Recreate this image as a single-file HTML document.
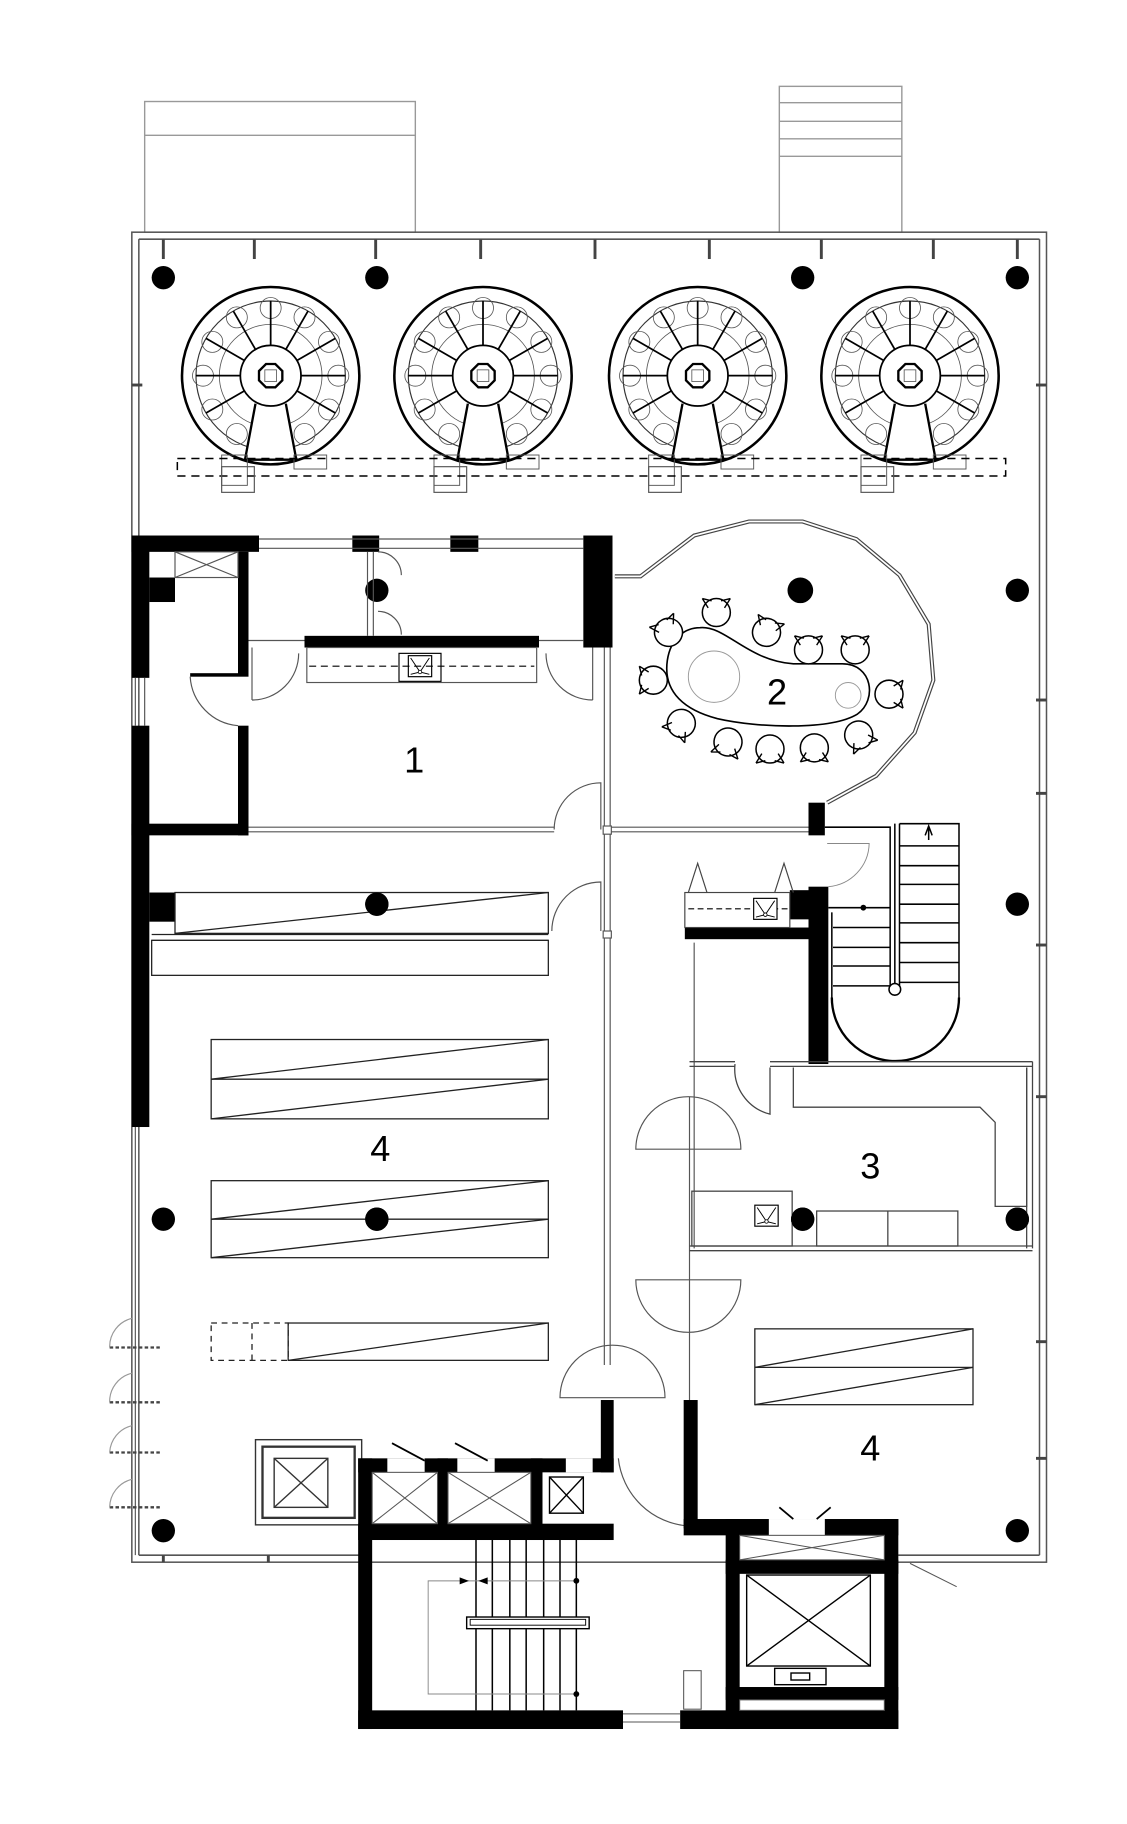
<!DOCTYPE html>
<html><head><meta charset="utf-8"><style>
html,body{margin:0;padding:0;background:#fff;}
svg{display:block;}
text{font-family:"Liberation Sans",sans-serif;}
</style></head><body>
<svg width="1127" height="1824" viewBox="0 0 966 1563.4" xmlns="http://www.w3.org/2000/svg">
<defs>
<g id="mach">
  <circle r="76" fill="#fff" stroke="#000" stroke-width="2.2"/>
  <circle r="64" fill="none" stroke="#333" stroke-width="1"/>
  <g stroke="#555" stroke-width="0.7" fill="none">
    <circle cx="0" cy="-58" r="9"/><circle cx="29" cy="-50" r="9"/><circle cx="50" cy="-29" r="9"/>
    <circle cx="58" cy="0" r="9"/><circle cx="50" cy="29" r="9"/><circle cx="-29" cy="-50" r="9"/>
    <circle cx="-50" cy="-29" r="9"/><circle cx="-58" cy="0" r="9"/><circle cx="-50" cy="29" r="9"/>
    <circle cx="-29" cy="50" r="9"/><circle cx="29" cy="50" r="9"/>
    <circle r="44"/>
  </g>
  <g stroke="#000" stroke-width="1.5">
    <line x1="0" y1="-26" x2="0" y2="-64"/><line x1="13" y1="-22.5" x2="32" y2="-55.4"/>
    <line x1="22.5" y1="-13" x2="55.4" y2="-32"/><line x1="26" y1="0" x2="64" y2="0"/>
    <line x1="22.5" y1="13" x2="55.4" y2="32"/><line x1="-13" y1="-22.5" x2="-32" y2="-55.4"/>
    <line x1="-22.5" y1="-13" x2="-55.4" y2="-32"/><line x1="-26" y1="0" x2="-64" y2="0"/>
    <line x1="-22.5" y1="13" x2="-55.4" y2="32"/>
  </g>
  <path d="M-13,24 L-22,72 L22,72 L13,24" fill="#fff" stroke="#000" stroke-width="2"/>
  <circle r="26" fill="#fff" stroke="#000" stroke-width="1.5"/>
  <polygon points="-4,-10 4,-10 10,-4 10,4 4,10 -4,10 -10,4 -10,-4" fill="none" stroke="#000" stroke-width="2"/>
  <rect x="-5" y="-5" width="10" height="10" fill="none" stroke="#555" stroke-width="0.7"/>
  <rect x="-42" y="68" width="22" height="26" fill="none" stroke="#555" stroke-width="0.8"/>
  <rect x="20" y="68" width="28" height="12" fill="none" stroke="#555" stroke-width="0.8"/>
</g>
<g id="chair">
  <circle r="12" fill="#fff" stroke="#000" stroke-width="1.3"/>
  <path d="M-12,-12 L-7,-4 M12,-12 L7,-4 M-12,-12 L-4,-10 M12,-12 L4,-10" stroke="#000" stroke-width="1.2"/>
</g>
<g id="sink">
  <rect x="-10" y="-9" width="20" height="18" fill="#fff" stroke="#000" stroke-width="1"/>
  <path d="M-8,-7 L0,5 L8,-7 M-8,7 L0,5 L8,7" stroke="#000" stroke-width="0.8" fill="none"/>
  <circle cx="0" cy="5" r="1.5" fill="#fff" stroke="#000" stroke-width="0.7"/>
</g>
</defs>

<!-- top annexes -->
<g fill="none" stroke="#999" stroke-width="1.2">
  <rect x="124" y="87" width="232" height="112"/>
  <line x1="124" y1="116" x2="356" y2="116"/>
  <rect x="668" y="74" width="105" height="125"/>
  <line x1="668" y1="88" x2="773" y2="88"/><line x1="668" y1="104" x2="773" y2="104"/>
  <line x1="668" y1="119" x2="773" y2="119"/><line x1="668" y1="134" x2="773" y2="134"/>
</g>

<!-- outer building -->
<g fill="none" stroke="#555" stroke-width="1.3">
  <rect x="113" y="199" width="784" height="1140"/>
  <line x1="119" y1="205" x2="891" y2="205"/>
  <line x1="119" y1="205" x2="119" y2="1333"/>
  <line x1="891" y1="205" x2="891" y2="1333"/>
  <line x1="119" y1="1333" x2="310" y2="1333"/>
  <line x1="765" y1="1333" x2="891" y2="1333"/>
</g>
<g stroke="#444" stroke-width="2.5">
  <line x1="140" y1="205" x2="140" y2="222"/><line x1="218" y1="205" x2="218" y2="222"/>
  <line x1="322" y1="205" x2="322" y2="222"/><line x1="412" y1="205" x2="412" y2="222"/>
  <line x1="510" y1="205" x2="510" y2="222"/><line x1="608" y1="205" x2="608" y2="222"/>
  <line x1="704" y1="205" x2="704" y2="222"/><line x1="800" y1="205" x2="800" y2="222"/>
  <line x1="872" y1="205" x2="872" y2="222"/>
  <line x1="113" y1="330" x2="122" y2="330"/><line x1="888" y1="330" x2="897" y2="330"/>
  <line x1="888" y1="600" x2="897" y2="600"/><line x1="888" y1="680" x2="897" y2="680"/>
  <line x1="888" y1="810" x2="897" y2="810"/><line x1="888" y1="940" x2="897" y2="940"/>
  <line x1="888" y1="1150" x2="897" y2="1150"/><line x1="888" y1="1250" x2="897" y2="1250"/>
  <line x1="230" y1="1333" x2="230" y2="1339"/><line x1="140" y1="1333" x2="140" y2="1339"/>
</g>

<!-- machines -->
<use href="#mach" x="232" y="322"/>
<use href="#mach" x="414" y="322"/>
<use href="#mach" x="598" y="322"/>
<use href="#mach" x="780" y="322"/>
<rect x="152" y="393" width="710" height="15" fill="none" stroke="#000" stroke-width="1.3" stroke-dasharray="7,5"/>
<g fill="none" stroke="#555" stroke-width="1">
  <rect x="190" y="400" width="28" height="22"/><rect x="372" y="400" width="28" height="22"/>
  <rect x="556" y="400" width="28" height="22"/><rect x="738" y="400" width="28" height="22"/>
</g>

<!-- columns -->
<g fill="#000">
  <circle cx="140" cy="238" r="10"/><circle cx="323" cy="238" r="10"/>
  <circle cx="688" cy="238" r="10"/><circle cx="872" cy="238" r="10"/>
  <circle cx="323" cy="506" r="10"/><circle cx="686" cy="506" r="11"/><circle cx="872" cy="506" r="10"/>
  <circle cx="323" cy="775" r="10"/><circle cx="872" cy="775" r="10"/>
  <circle cx="140" cy="1045" r="10"/><circle cx="323" cy="1045" r="10"/>
  <circle cx="688" cy="1045" r="10"/><circle cx="872" cy="1045" r="10"/>
  <circle cx="140" cy="1312" r="10"/><circle cx="872" cy="1312" r="10"/>
</g>

<!-- ROOM 1 & left walls -->
<g fill="#000">
  <rect x="113" y="459" width="15" height="122"/>
  <rect x="113" y="622" width="15" height="344"/>
  <rect x="113" y="459" width="109" height="14"/>
  <rect x="204" y="473" width="9" height="107"/>
  <rect x="204" y="622" width="9" height="94"/>
  <rect x="113" y="706" width="100" height="10"/>
  <rect x="128" y="495" width="22" height="21"/>
  <rect x="163" y="577" width="41" height="3"/>
  <rect x="302" y="459" width="23" height="14"/>
  <rect x="386" y="459" width="24" height="14"/>
  <rect x="500" y="459" width="25" height="96"/>
  <rect x="261" y="545" width="201" height="10"/>
  <rect x="128" y="765" width="22" height="25"/>
</g>
<g fill="none" stroke="#555" stroke-width="1">
  <rect x="150" y="473" width="54" height="22"/>
  <path d="M150,473 L204,495 M204,473 L150,495"/>
  <line x1="222" y1="462" x2="500" y2="462"/><line x1="222" y1="470" x2="500" y2="470"/>
  <rect x="263" y="555" width="197" height="30"/>
  <line x1="213" y1="549" x2="261" y2="549"/><line x1="462" y1="549" x2="500" y2="549"/>
  <line x1="315" y1="473" x2="315" y2="545"/><line x1="320" y1="473" x2="320" y2="545"/>
  <path d="M324,473 A20,20 0 0 1 344,493 M324,524 A20,20 0 0 1 344,544"/>
  <path d="M216,555 L216,600 M216,600 A40,40 0 0 0 256,560 M508,555 L508,600 M508,600 A40,40 0 0 1 468,560"/>
  <path d="M163,580 A45,45 0 0 0 204,622"/>
  <line x1="116" y1="581" x2="116" y2="622"/><line x1="124" y1="581" x2="124" y2="622"/>
  <line x1="116" y1="966" x2="116" y2="1333"/>
  <line x1="213" y1="709" x2="475" y2="709"/><line x1="213" y1="713" x2="475" y2="713"/>
  <path d="M475,711 A40,40 0 0 1 515,671 L515,711"/>
  <line x1="518" y1="555" x2="518" y2="1170"/><line x1="523" y1="555" x2="523" y2="1170"/>
  <line x1="523" y1="709" x2="693" y2="709"/><line x1="523" y1="713" x2="693" y2="713"/>
  <path d="M473,798 A42,42 0 0 1 515,756 L515,798"/>
</g>
<rect x="517" y="708" width="7" height="7" fill="#fff" stroke="#555"/>
<rect x="517" y="798" width="7" height="6" fill="#fff" stroke="#555"/>
<g fill="#000"><rect x="342" y="560" width="36" height="24" fill="#fff" stroke="#000"/></g>
<use href="#sink" x="360" y="571"/>
<line x1="265" y1="571" x2="458" y2="571" stroke="#000" stroke-width="1" stroke-dasharray="6,4"/>
<text x="355" y="662" font-size="31" text-anchor="middle">1</text>

<!-- storage shelves -->
<g fill="none" stroke="#222" stroke-width="1.1">
  <rect x="150" y="765" width="320" height="35"/>
  <line x1="150" y1="800" x2="470" y2="765"/>
  <line x1="130" y1="801" x2="470" y2="801"/><line x1="130" y1="806" x2="470" y2="806"/>
  <rect x="130" y="806" width="340" height="30"/>
  <rect x="181" y="891" width="289" height="68"/>
  <line x1="181" y1="925" x2="470" y2="925"/>
  <line x1="181" y1="925" x2="470" y2="891"/><line x1="181" y1="959" x2="470" y2="925"/>
  <rect x="181" y="1012" width="289" height="66"/>
  <line x1="181" y1="1045" x2="470" y2="1045"/>
  <line x1="181" y1="1045" x2="470" y2="1012"/><line x1="181" y1="1078" x2="470" y2="1045"/>
  <rect x="247" y="1134" width="223" height="32"/>
  <line x1="247" y1="1166" x2="470" y2="1134"/>
  <rect x="181" y="1134" width="66" height="32" stroke-dasharray="5,4"/>
  <line x1="216" y1="1134" x2="216" y2="1166" stroke-dasharray="5,4"/>
</g>
<circle cx="323" cy="775" r="10"/><circle cx="323" cy="1045" r="10"/>
<text x="326" y="995" font-size="31" text-anchor="middle">4</text>

<!-- left doors -->
<g fill="none" stroke="#444" stroke-width="1">
  <g stroke-dasharray="3,2" stroke-width="2"><line x1="94" y1="1155" x2="138" y2="1155"/><line x1="94" y1="1202" x2="138" y2="1202"/><line x1="94" y1="1245" x2="138" y2="1245"/><line x1="94" y1="1292" x2="138" y2="1292"/></g>
  <path d="M94,1155 A25,25 0 0 1 113,1130 M94,1202 A25,25 0 0 1 113,1177 M94,1245 A25,25 0 0 1 113,1222 M94,1292 A25,25 0 0 1 113,1268" stroke="#999"/>
</g>
<!-- left elevator -->
<g fill="none" stroke="#333" stroke-width="1.2">
  <rect x="219" y="1234" width="91" height="73"/>
  <rect x="225" y="1240" width="79" height="61" stroke-width="2"/>
  <rect x="235" y="1250" width="46" height="42"/>
  <path d="M235,1250 L281,1292 M281,1250 L235,1292"/>
</g>

<!-- central hallway doors -->
<g fill="none" stroke="#555" stroke-width="1">
  <path d="M480,1198 A45,45 0 0 1 570,1198 Z"/>
  <path d="M545,985 A45,45 0 0 1 635,985 Z" />
  <path d="M545,1097 A45,45 0 0 0 635,1097 Z"/>
  <line x1="591" y1="940" x2="591" y2="1300"/><line x1="595" y1="808" x2="595" y2="1070"/>
  <path d="M530,1250 A65,65 0 0 0 590,1308"/>
</g>

<!-- ROOM 2 glass -->
<polyline points="527,494 549,494 595,459 642,447 688,447 734,462 771,493 796,535 800,583 784,628 751,665 709,688" fill="none" stroke="#444" stroke-width="3.5"/>
<polyline points="527,494 549,494 595,459 642,447 688,447 734,462 771,493 796,535 800,583 784,628 751,665 709,688" fill="none" stroke="#fff" stroke-width="1.5"/>
<rect x="693" y="688" width="14" height="28" fill="#000"/>
<path d="M600,538 C622,536 640,566 680,569 L722,569 C748,569 752,600 735,612 C712,626 650,624 615,616 C588,609 568,594 572,566 C575,546 588,538 600,538 Z" fill="#fff" stroke="#000" stroke-width="1.4"/>
<circle cx="612" cy="580" r="22" fill="none" stroke="#999" stroke-width="0.8"/>
<circle cx="727" cy="596" r="11" fill="none" stroke="#999" stroke-width="0.8"/>
<use href="#chair" x="573" y="542" transform="rotate(-30 573 542)"/>
<use href="#chair" x="614" y="525"/>
<use href="#chair" x="657" y="542" transform="rotate(20 657 542)"/>
<use href="#chair" x="693" y="557"/>
<use href="#chair" x="733" y="557"/>
<use href="#chair" x="762" y="595" transform="rotate(90 762 595)"/>
<use href="#chair" x="736" y="630" transform="rotate(150 736 630)"/>
<use href="#chair" x="698" y="641" transform="rotate(180 698 641)"/>
<use href="#chair" x="660" y="642" transform="rotate(180 660 642)"/>
<use href="#chair" x="624" y="636" transform="rotate(195 624 636)"/>
<use href="#chair" x="584" y="620" transform="rotate(215 584 620)"/>
<use href="#chair" x="560" y="583" transform="rotate(-90 560 583)"/>
<text x="666" y="604" font-size="31" text-anchor="middle">2</text>

<!-- stair & kitchen area -->
<g fill="#000">
  <rect x="693" y="760" width="17" height="152"/>
  <rect x="677" y="763" width="16" height="25"/>
  <rect x="587" y="795" width="106" height="10"/>
</g>
<g fill="none" stroke="#000" stroke-width="1.3">
  <path d="M707,709 L763,709 L763,845 M771,706 L771,845 L767,845 L767,706 M771,706 L822,706 L822,855"/>
  <line x1="771" y1="725" x2="822" y2="725"/><line x1="771" y1="742" x2="822" y2="742"/>
  <line x1="771" y1="758" x2="822" y2="758"/><line x1="771" y1="775" x2="822" y2="775"/>
  <line x1="771" y1="791" x2="822" y2="791"/><line x1="771" y1="808" x2="822" y2="808"/>
  <line x1="771" y1="825" x2="822" y2="825"/><line x1="771" y1="842" x2="822" y2="842"/>
  <line x1="710" y1="778" x2="763" y2="778"/><line x1="714" y1="795" x2="763" y2="795"/>
  <line x1="714" y1="812" x2="763" y2="812"/><line x1="714" y1="828" x2="763" y2="828"/>
  <line x1="714" y1="845" x2="763" y2="845"/>
  <path d="M713,855 A54,54 0 0 0 822,855" stroke-width="2"/>
  <line x1="713" y1="782" x2="713" y2="855"/>
  <circle cx="767" cy="848" r="5" fill="#fff"/>
  <path d="M796,708 L796,720 M793,716 L796,708 L799,716"/>
</g>
<circle cx="740" cy="778" r="2.5" fill="#000"/>
<path d="M709,723 L745,723 A38,38 0 0 1 710,760" fill="none" stroke="#888" stroke-width="0.8"/>
<g fill="none" stroke="#444" stroke-width="1">
  <rect x="587" y="765" width="90" height="30"/>
  <path d="M590,765 L598,740 L606,765 M664,765 L672,740 L680,765"/>
</g>
<line x1="590" y1="779" x2="680" y2="779" stroke="#000" stroke-dasharray="5,3"/>
<use href="#sink" x="656" y="779"/>

<!-- ROOM 3 -->
<g fill="none" stroke="#444" stroke-width="1.1">
  <line x1="591" y1="910" x2="630" y2="910"/><line x1="660" y1="910" x2="885" y2="910"/>
  <line x1="591" y1="914" x2="630" y2="914"/><line x1="660" y1="914" x2="885" y2="914"/>
  <path d="M680,915 L680,949 L840,949 L853,962 L853,1034 L880,1034 L880,915"/>
  <line x1="885" y1="910" x2="885" y2="1070"/><line x1="880" y1="915" x2="880" y2="1070"/>
  <path d="M630,912 A40,40 0 0 0 660,955 L660,915"/>
  <rect x="593" y="1021" width="86" height="47"/>
  <rect x="700" y="1038" width="121" height="30"/>
  <line x1="761" y1="1038" x2="761" y2="1068"/>
  <line x1="591" y1="1068" x2="885" y2="1068"/><line x1="591" y1="1072" x2="885" y2="1072"/>
</g>
<use href="#sink" x="657" y="1042"/>
<circle cx="688" cy="1045" r="10"/><circle cx="872" cy="1045" r="10"/>
<text x="746" y="1010" font-size="31" text-anchor="middle">3</text>

<!-- lower right room -->
<g fill="none" stroke="#222" stroke-width="1.1">
  <rect x="647" y="1139" width="187" height="65"/>
  <line x1="647" y1="1172" x2="834" y2="1172"/>
  <line x1="647" y1="1172" x2="834" y2="1139"/><line x1="647" y1="1204" x2="834" y2="1172"/>
</g>
<text x="746" y="1252" font-size="31" text-anchor="middle">4</text>

<!-- bottom core -->
<g fill="#000">
  <rect x="515" y="1200" width="11" height="62"/>
  <rect x="307" y="1250" width="219" height="12"/>
  <rect x="307" y="1250" width="12" height="232"/>
  <rect x="307" y="1306" width="219" height="14"/>
  <rect x="375" y="1250" width="9" height="60"/>
  <rect x="455" y="1250" width="10" height="60"/>
  <rect x="307" y="1466" width="227" height="16"/>
  <rect x="583" y="1466" width="187" height="16"/>
  <rect x="586" y="1200" width="12" height="110"/>
  <rect x="586" y="1302" width="184" height="14"/>
  <rect x="622" y="1302" width="12" height="180"/>
  <rect x="758" y="1302" width="12" height="180"/>
  <rect x="622" y="1337" width="148" height="12"/>
  <rect x="622" y="1446" width="148" height="11"/>
</g>
<g fill="#fff"><rect x="332" y="1250" width="32" height="12"/><rect x="392" y="1250" width="32" height="12"/><rect x="485" y="1250" width="23" height="12"/>
<rect x="659" y="1302" width="48" height="14"/></g>
<g fill="none" stroke="#555" stroke-width="0.9">
  <rect x="319" y="1262" width="56" height="44"/><path d="M319,1262 L375,1306 M375,1262 L319,1306"/>
  <rect x="384" y="1262" width="71" height="44"/><path d="M384,1262 L455,1306 M455,1262 L384,1306"/>
  <rect x="634" y="1316" width="124" height="21"/><path d="M634,1316 L758,1337 M758,1316 L634,1337"/>
  <rect x="634" y="1457" width="124" height="9"/>
  <path d="M336,1237 L364,1252 M390,1237 L418,1252 M680,1302 L668,1292 M700,1302 L712,1292" stroke="#000" stroke-width="1.5"/>
  <rect x="586" y="1432" width="15" height="33"/>
  <line x1="534" y1="1469" x2="583" y2="1469"/><line x1="534" y1="1476" x2="583" y2="1476"/>
  <line x1="770" y1="1333" x2="830" y2="1333"/><path d="M780,1340 L820,1360" />
</g>
<g fill="none" stroke="#000" stroke-width="1.2">
  <rect x="471" y="1266" width="29" height="31"/><path d="M471,1266 L500,1297 M500,1266 L471,1297"/>
  <rect x="640" y="1350" width="106" height="78"/><path d="M640,1350 L746,1428 M746,1350 L640,1428"/>
  <rect x="664" y="1430" width="44" height="14"/>
  <rect x="678" y="1434" width="16" height="6"/>
</g>
<!-- stairs -->
<g stroke="#000" stroke-width="1.3">
  <line x1="422" y1="1320" x2="422" y2="1466"/><line x1="437" y1="1320" x2="437" y2="1466"/>
  <line x1="451" y1="1320" x2="451" y2="1466"/><line x1="466" y1="1320" x2="466" y2="1466"/>
  <line x1="480" y1="1320" x2="480" y2="1466"/><line x1="494" y1="1320" x2="494" y2="1466"/>
  <line x1="408" y1="1320" x2="408" y2="1386"/><line x1="408" y1="1395" x2="408" y2="1466"/>
</g>
<rect x="400" y="1386" width="105" height="10" fill="#fff" stroke="#000" stroke-width="1.2"/>
<rect x="403" y="1388" width="99" height="5" fill="none" stroke="#000" stroke-width="0.8"/>
<path d="M404,1355 L367,1355 L367,1452 L494,1452 M404,1355 L494,1355" fill="none" stroke="#888" stroke-width="0.8"/>
<path d="M394,1352 L402,1355 L394,1358 Z M418,1352 L410,1355 L418,1358 Z" fill="#000"/>
<circle cx="494" cy="1355" r="2.5"/><circle cx="494" cy="1452" r="2.5"/>
</svg>
</body></html>
